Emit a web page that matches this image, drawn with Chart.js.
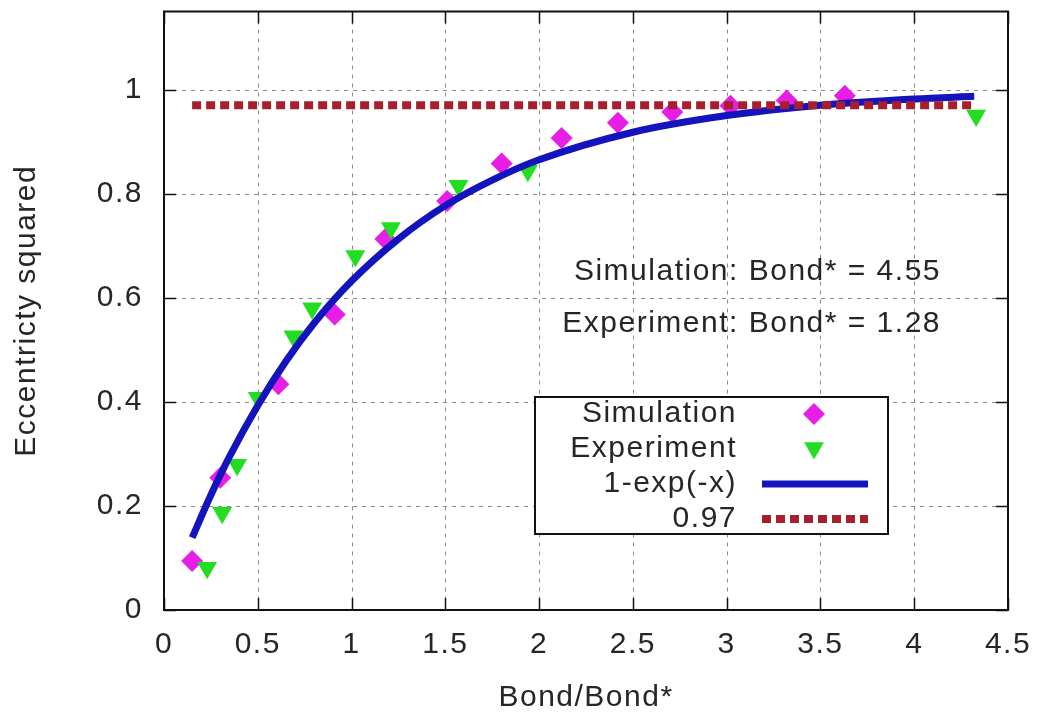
<!DOCTYPE html>
<html>
<head>
<meta charset="utf-8">
<title>Eccentricity squared vs Bond/Bond*</title>
<script src="https://cdn.jsdelivr.net/npm/chart.js@4.4.1/dist/chart.umd.min.js"></script>
<style>
  html, body { margin: 0; padding: 0; background: #fff; }
  #wrap { width: 1045px; height: 719px; }
</style>
</head>
<body>
<div id="wrap"><canvas id="ecc" width="1045" height="719"></canvas></div>
<script>
// ==========================================
// DATA
// ==========================================

// Simulation runs (Bond/Bond*, eccentricity squared)
const simX = [0.15, 0.30, 0.61, 0.91, 1.18, 1.51, 1.80, 2.12, 2.42, 2.71, 3.02, 3.32, 3.63];
const simY = [0.094, 0.254, 0.434, 0.568, 0.713, 0.786, 0.858, 0.907, 0.936, 0.957, 0.969, 0.979, 0.988];

// Experimental drops
const expX = [0.23, 0.31, 0.39, 0.50, 0.69, 0.79, 1.02, 1.21, 1.57, 1.94, 4.33];
const expY = [0.081, 0.187, 0.279, 0.408, 0.526, 0.580, 0.680, 0.734, 0.815, 0.844, 0.950];

// 1-exp(-x), tabulated
const fitX = [0.15, 0.25, 0.35, 0.5, 0.65, 0.8, 1.0, 1.25, 1.5, 1.75, 2.0, 2.5, 3.0, 3.5, 4.0, 4.32];
const fitY = [0.139, 0.221, 0.295, 0.393, 0.478, 0.551, 0.632, 0.713, 0.777, 0.826, 0.865, 0.918, 0.950, 0.970, 0.982, 0.987];

// saturation level
const levelX = [0.15, 4.31];
const levelY = [0.97, 0.97];

const xTicks = [0, 0.5, 1, 1.5, 2, 2.5, 3, 3.5, 4, 4.5];
const yTicks = [0, 0.2, 0.4, 0.6, 0.8, 1];

const seriesNames = ['Simulation', 'Experiment', '1-exp(-x)', '0.97'];
const notes = ['Simulation: Bond* = 4.55', 'Experiment: Bond* = 1.28'];

// ==========================================
// STYLE
// ==========================================
const FONT = '"Liberation Sans", Arial, Helvetica, sans-serif';
const TEXT = '#262626';
const MAGENTA = '#e61ee6';
const GREEN = '#22dd22';
const BLUE = '#1414be';
const RED = '#a81e2c';

function pts(xs, ys) {
    return xs.map((x, i) => ({ x: x, y: ys[i] }));
}

// ==========================================
// FRAME, GRID, LEGEND, NOTES
// ==========================================
const gnuFrame = {
    id: 'gnuFrame',
    beforeDraw(chart) {
        // gnuplot's fonts run a little wide
        if ('letterSpacing' in chart.ctx) chart.ctx.letterSpacing = '1.5px';
    },
    beforeDatasetsDraw(chart) {
        const { ctx, chartArea: a, scales: { x, y } } = chart;
        ctx.save();
        ctx.strokeStyle = '#8a8a8a';
        ctx.lineWidth = 1;
        ctx.setLineDash([4, 5]);
        xTicks.forEach(v => {
            const px = Math.round(x.getPixelForValue(v)) + 0.5;
            if (v === xTicks[0] || v === xTicks[xTicks.length - 1]) return;
            ctx.beginPath();
            ctx.moveTo(px, a.top);
            ctx.lineTo(px, a.bottom);
            ctx.stroke();
        });
        yTicks.forEach(v => {
            const py = Math.round(y.getPixelForValue(v)) + 0.5;
            if (v === yTicks[0]) return;
            ctx.beginPath();
            ctx.moveTo(a.left, py);
            ctx.lineTo(a.right, py);
            ctx.stroke();
        });
        ctx.restore();
    },
    afterDatasetsDraw(chart) {
        const { ctx, chartArea: a, scales: { x, y } } = chart;
        ctx.save();

        // border box
        ctx.strokeStyle = '#111';
        ctx.lineWidth = 2;
        ctx.strokeRect(a.left, a.top, a.right - a.left, a.bottom - a.top);

        // inward ticks on all four sides
        const tl = 12;
        ctx.lineWidth = 1.5;
        ctx.beginPath();
        xTicks.forEach(v => {
            const px = Math.round(x.getPixelForValue(v)) + 0.5;
            ctx.moveTo(px, a.bottom); ctx.lineTo(px, a.bottom - tl);
            ctx.moveTo(px, a.top); ctx.lineTo(px, a.top + tl);
        });
        yTicks.forEach(v => {
            const py = Math.round(y.getPixelForValue(v)) + 0.5;
            ctx.moveTo(a.left, py); ctx.lineTo(a.left + tl, py);
            ctx.moveTo(a.right, py); ctx.lineTo(a.right - tl, py);
        });
        ctx.stroke();

        // Bond* notes
        ctx.fillStyle = TEXT;
        ctx.font = '30px ' + FONT;
        ctx.textAlign = 'right';
        ctx.textBaseline = 'middle';
        ctx.fillText(notes[0], 941, 272);
        ctx.fillText(notes[1], 941, 324);

        // legend box
        const bx = 535, by = 397, bw = 353, bh = 137;
        ctx.fillStyle = '#fff';
        ctx.fillRect(bx, by, bw, bh);
        ctx.strokeStyle = '#111';
        ctx.lineWidth = 2;
        ctx.strokeRect(bx, by, bw, bh);

        const rowY = [414, 449, 484, 519];
        ctx.fillStyle = TEXT;
        seriesNames.forEach((name, i) => ctx.fillText(name, 737, rowY[i]));

        // diamond
        const sx = 814;
        ctx.fillStyle = MAGENTA;
        ctx.beginPath();
        ctx.moveTo(sx - 11, rowY[0]);
        ctx.lineTo(sx, rowY[0] - 11);
        ctx.lineTo(sx + 11, rowY[0]);
        ctx.lineTo(sx, rowY[0] + 11);
        ctx.closePath();
        ctx.fill();

        // down triangle
        const r = 11.5, ty = rowY[1] - 1;
        ctx.fillStyle = GREEN;
        ctx.beginPath();
        ctx.moveTo(sx, ty + r);
        ctx.lineTo(sx - r * 0.866, ty - r / 2);
        ctx.lineTo(sx + r * 0.866, ty - r / 2);
        ctx.closePath();
        ctx.fill();

        // fit line
        ctx.strokeStyle = BLUE;
        ctx.lineWidth = 7;
        ctx.setLineDash([]);
        ctx.beginPath();
        ctx.moveTo(762, rowY[2]);
        ctx.lineTo(868, rowY[2]);
        ctx.stroke();

        // level line
        ctx.strokeStyle = RED;
        ctx.lineWidth = 8;
        ctx.setLineDash([9, 5]);
        ctx.beginPath();
        ctx.moveTo(762, rowY[3]);
        ctx.lineTo(868, rowY[3]);
        ctx.stroke();

        ctx.restore();
    }
};

// ==========================================
// CHART
// ==========================================
new Chart(document.getElementById('ecc'), {
    type: 'scatter',
    data: {
        datasets: [
            {
                label: seriesNames[3],
                data: pts(levelX, levelY),
                showLine: true,
                borderColor: RED,
                borderWidth: 8,
                borderDash: [9, 5],
                borderCapStyle: 'butt',
                pointRadius: 0,
                order: 0
            },
            {
                label: seriesNames[2],
                data: pts(fitX, fitY),
                showLine: true,
                borderColor: BLUE,
                borderWidth: 7,
                cubicInterpolationMode: 'monotone',
                pointRadius: 0,
                order: 1
            },
            {
                label: seriesNames[1],
                data: pts(expX, expY),
                pointStyle: 'triangle',
                rotation: 180,
                pointRadius: 11.5,
                pointBackgroundColor: GREEN,
                pointBorderWidth: 0,
                order: 2
            },
            {
                label: seriesNames[0],
                data: pts(simX, simY),
                pointStyle: 'rectRot',
                pointRadius: 11,
                pointBackgroundColor: MAGENTA,
                pointBorderWidth: 0,
                order: 3
            }
        ]
    },
    options: {
        responsive: false,
        animation: false,
        devicePixelRatio: 1,
        layout: { padding: { left: 0, right: 37, top: 11, bottom: 0 } },
        plugins: {
            legend: { display: false },
            tooltip: { enabled: false }
        },
        scales: {
            x: {
                type: 'linear',
                min: 0,
                max: 4.5,
                afterBuildTicks: scale => { scale.ticks = xTicks.map(v => ({ value: v })); },
                afterFit: scale => {
                    scale.height = 109;
                    scale.paddingLeft = 0;
                    scale.paddingRight = 0;
                },
                grid: { display: false, drawTicks: false },
                border: { display: false },
                ticks: {
                    padding: 17,
                    color: TEXT,
                    font: { family: FONT, size: 30 },
                    maxRotation: 0,
                    callback: v => String(v)
                },
                title: {
                    display: true,
                    text: 'Bond/Bond*',
                    color: TEXT,
                    font: { family: FONT, size: 30 },
                    padding: { top: 0, bottom: 3 }
                }
            },
            y: {
                type: 'linear',
                min: 0,
                max: 1.15,
                afterBuildTicks: scale => { scale.ticks = yTicks.map(v => ({ value: v })); },
                afterFit: scale => {
                    scale.width = 164;
                    scale.paddingTop = 0;
                    scale.paddingBottom = 0;
                },
                grid: { display: false, drawTicks: false },
                border: { display: false },
                ticks: {
                    padding: 21,
                    color: TEXT,
                    font: { family: FONT, size: 30 },
                    callback: v => String(v)
                },
                title: {
                    display: true,
                    text: 'Eccentricty squared',
                    color: TEXT,
                    font: { family: FONT, size: 30 },
                    padding: { top: 9, bottom: 0 }
                }
            }
        }
    },
    plugins: [gnuFrame]
});
</script>
</body>
</html>
